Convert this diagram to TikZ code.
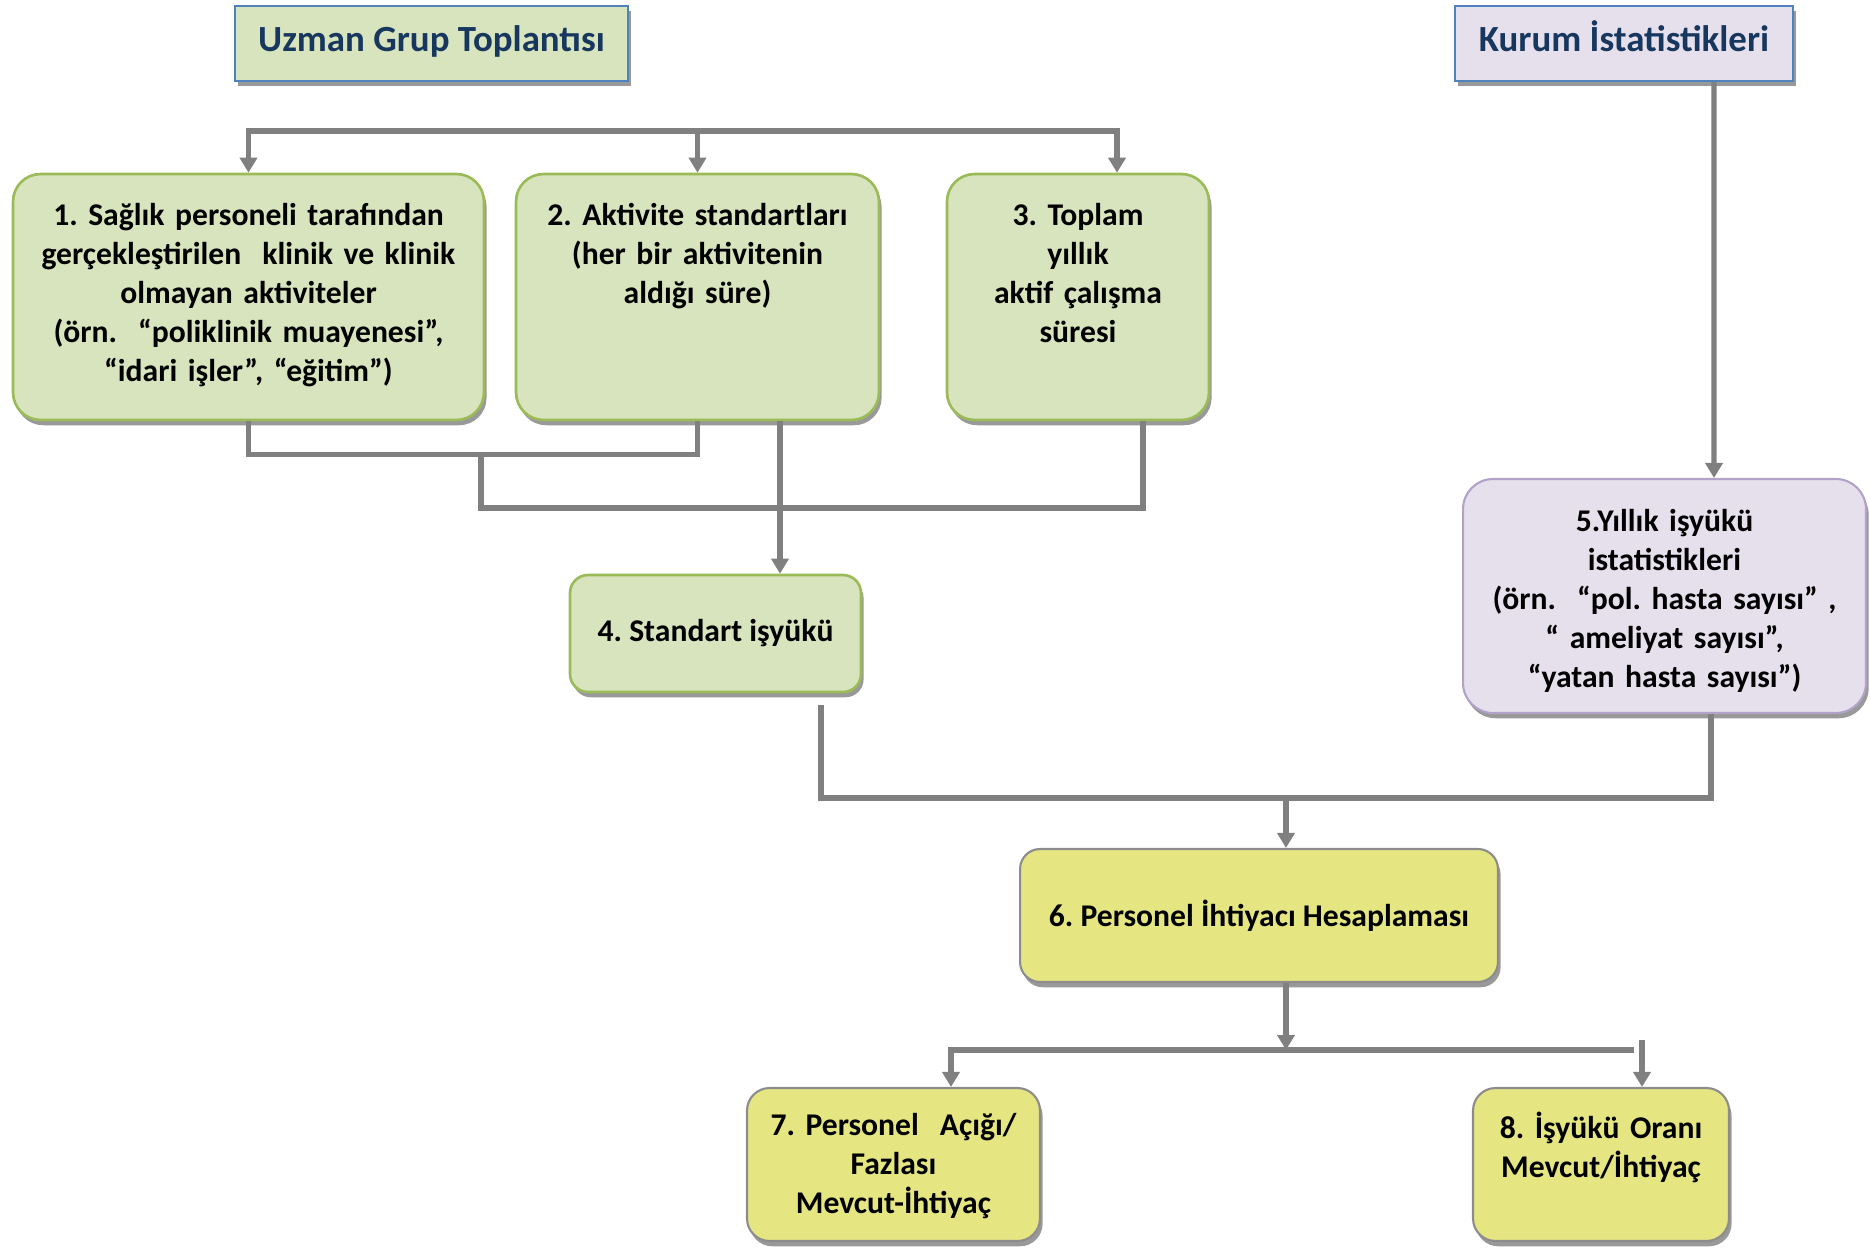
\documentclass[tikz,border=0pt]{standalone}
\usepackage{fontspec}
\setmainfont{Carlito}
\usetikzlibrary{arrows.meta,calc,shadows}
\definecolor{gfill}{HTML}{D7E4BD}
\definecolor{gline}{HTML}{9BBB59}
\definecolor{lfill}{HTML}{E5E0EC}
\definecolor{lline}{HTML}{B3A2C7}
\definecolor{yfill}{HTML}{E5E682}
\definecolor{yline}{HTML}{8C8C8C}
\definecolor{hblue}{HTML}{4F81BD}
\definecolor{navy}{HTML}{17375E}
\definecolor{lgray}{HTML}{808080}
\newcommand{\toptext}[2]{\parbox[c][#1][t]{\linewidth}{\centering #2}}
\frenchspacing
\begin{document}
\begin{tikzpicture}[x=0.02cm, y=-0.02cm,
	boxshadow/.style={drop shadow={shadow xshift=1.5pt, shadow yshift=-3pt, fill=black!40, opacity=1}},
	head/.style={draw=hblue, line width=1.2pt, boxshadow, minimum height=1.5cm, inner sep=0pt,
		text height=0.45cm, text depth=0.12cm, text=navy, font=\fontsize{21}{25}\selectfont\bfseries},
	greenbox/.style={draw=gline, fill=gfill, line width=1.5pt, rounded corners=0.55cm, boxshadow,
		inner sep=0pt, align=center, font=\fontsize{18}{22.2}\selectfont\bfseries},
	lilacbox/.style={draw=lline, fill=lfill, line width=1.2pt, rounded corners=0.6cm, boxshadow,
		inner sep=0pt, align=center, font=\fontsize{18}{22.2}\selectfont\bfseries},
	yellowbox/.style={draw=yline, fill=yfill, line width=1.2pt, rounded corners=0.45cm, boxshadow,
		inner sep=0pt, align=center, font=\fontsize{18}{22.2}\selectfont\bfseries},
	flow/.style={draw=lgray, line width=3pt},
	arr/.style={flow, -{Triangle[width=0.34cm,length=0.3cm]}}]
	\useasboundingbox (0,0) rectangle (1870,1248);

	% sources
	\node[head, fill=gfill, minimum width=7.86cm] (uzman) at (431.5,43.5) {Uzman Grup Toplantısı};
	\node[head, fill=lfill, minimum width=6.76cm] (kurum) at (1624,43.5) {Kurum İstatistikleri};

	% inputs
	\node[greenbox, minimum width=9.42cm, minimum height=4.92cm, text width=9cm] (b1) at (248.5,297)
		{\toptext{3.75cm}{1. Sağlık personeli tarafından\\ gerçekleştirilen~ klinik ve klinik\\ olmayan aktiviteler\\ (örn.~ “poliklinik muayenesi”,\\ “idari işler”, “eğitim”)}};
	\node[greenbox, minimum width=7.26cm, minimum height=4.92cm, text width=7cm] (b2) at (697.5,297)
		{\toptext{3.75cm}{2. Aktivite standartları\\ (her bir aktivitenin\\ aldığı süre)}};
	\node[greenbox, minimum width=5.24cm, minimum height=4.92cm, text width=5cm] (b3) at (1078,297)
		{\toptext{3.75cm}{3. Toplam\\ yıllık\\ aktif çalışma\\ süresi}};
	\node[greenbox, rounded corners=0.36cm, minimum width=5.82cm, minimum height=2.34cm] (b4) at (715.5,633.5)
		{4. Standart işyükü};
	\node[lilacbox, minimum width=8.06cm, minimum height=4.68cm, text width=7.8cm] (b5) at (1664.5,596)
		{\toptext{3.45cm}{5.Yıllık işyükü\\ istatistikleri\\ (örn.~ “pol. hasta sayısı” ,\\ “ ameliyat sayısı”,\\ “yatan hasta sayısı”)}};

	% results
	\node[yellowbox, rounded corners=0.4cm, minimum width=9.56cm, minimum height=2.66cm] (b6) at (1259,915.5)
		{6. Personel İhtiyacı Hesaplaması};
	\node[yellowbox, minimum width=5.86cm, minimum height=3.06cm, text width=5.6cm] (b7) at (893.5,1164.5)
		{\toptext{2.05cm}{7. Personel~ Açığı/\\ Fazlası\\ Mevcut-İhtiyaç}};
	\node[yellowbox, minimum width=5.12cm, minimum height=3.06cm, text width=4.9cm] (b8) at (1601,1164.5)
		{\toptext{2.1cm}{8. İşyükü Oranı\\ Mevcut/İhtiyaç}};

	% connectors
	\coordinate (topbus) at (0,131);
	\coordinate (b3in) at (1117,131);
	\draw[arr] (b2.north |- topbus) -| (b1.north);
	\draw[arr] (b2.north |- topbus) -| (b3in |- b3.north);
	\draw[arr] (b2.north |- topbus) -- (b2.north);
	\draw[arr] ($(kurum.south)+(90,0)$) -- ($(b5.north)+(49.5,0)$);

	\coordinate (j12) at (481,453);
	\draw[flow] (b1.south) -- ++(0,33) -| (b2.south);
	\draw[flow] (j12) -- ++(0,55) -| ($(b3.south)+(65,0)$);
	\draw[arr] ($(b2.south)+(82.5,0)$) -- ($(b4.north)+(64.5,0)$);

	\coordinate (j45) at (1286,797);
	\draw[flow] ($(b4.south)+(105.5,12)$) |- ($(b5.south)+(46.5,84)$) -- ($(b5.south)+(46.5,0)$);
	\draw[arr] (j45) -- (j45 |- b6.north);

	\coordinate (j678) at (1286,1050);
	\draw[arr] (b6.south -| j678) -- (j678);
	\draw[arr] (j678) -| ($(b7.north)+(57.5,0)$);
	\draw[flow] (j678) -- ++(348,0);
	\draw[arr] ($(b8.north)+(41,-47)$) -- ($(b8.north)+(41,0)$);
\end{tikzpicture}
\end{document}
